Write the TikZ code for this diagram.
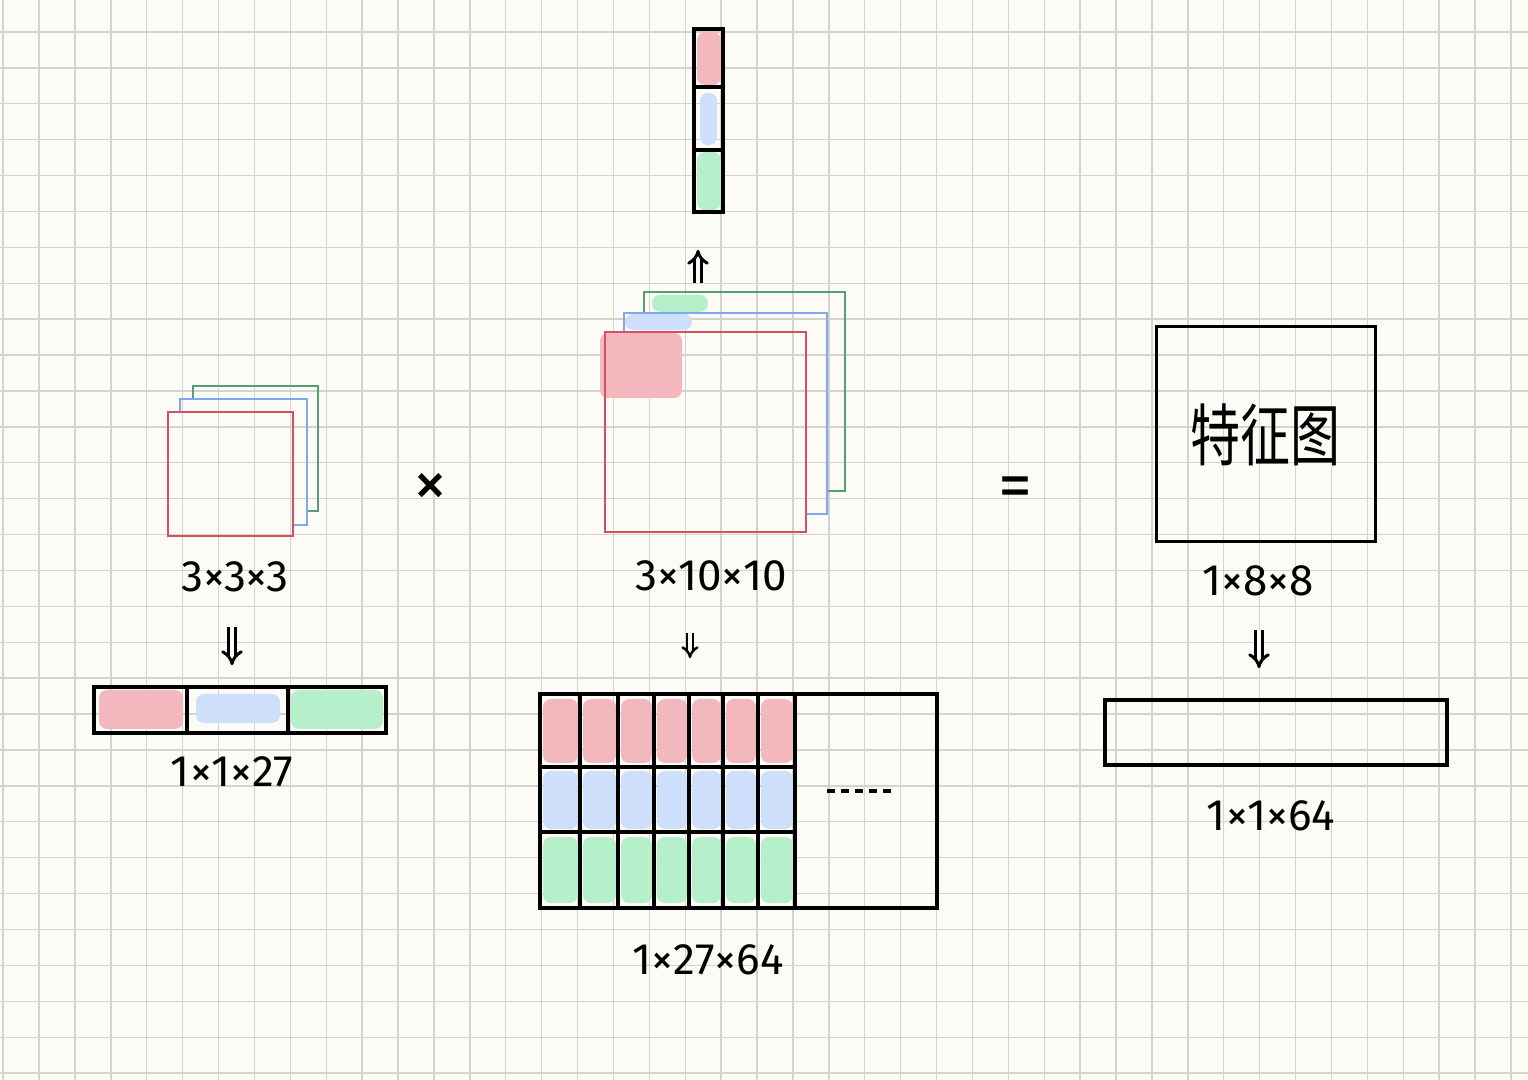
\documentclass[tikz,border=0pt]{standalone}
\usepackage{fontspec}
\setmainfont{Fira Sans}
\newfontfamily\cjkfont{Noto Sans CJK SC}
\usepackage{tikz}
\usetikzlibrary{arrows.meta, positioning, calc}
\definecolor{paper}{HTML}{FDFBF6}
\definecolor{gridgray}{HTML}{D5D3CF}
\definecolor{chred}{HTML}{D5505F}
\definecolor{chblue}{HTML}{7FA9EC}
\definecolor{chgreen}{HTML}{559E76}
\definecolor{fillred}{HTML}{F3B8BD}
\definecolor{fillblue}{HTML}{CDDFFA}
\definecolor{fillgreen}{HTML}{B5F0CA}

\begin{document}
\begin{tikzpicture}[x=0.5pt, y=-0.5pt, >={Implies},
  gridline/.style={gridgray, line width=0.7pt},
  blackbox/.style={draw=black, line width=1.8pt, inner sep=0pt},
  sheet/.style={line width=0.8pt},
  blob/.style={rounded corners=4pt},
  dimlabel/.style={font=\fontsize{22pt}{24pt}\selectfont, inner sep=0pt},
  opsign/.style={font=\fontsize{34pt}{36pt}\selectfont, inner sep=0pt},
  dblarrow/.style={->, double=paper, double distance=2pt, line width=1.5pt}]

  % paper and grid
  \fill[paper] (0,0) rectangle (1528,1080);
  \useasboundingbox (0,0) rectangle (1528,1080);
  \foreach \k in {0,...,42}
    \draw[gridline] ({3.1+35.9*\k},0) -- ({3.1+35.9*\k},1080);
  \foreach \k in {-1,...,29}
    \draw[gridline] (0,{32+35.9*\k}) -- (1528,{32+35.9*\k});

  % kernel 3x3x3
  \draw[sheet, chgreen] (193,399) |- (318,386) |- (307,511);
  \draw[sheet, chblue] (180,412) |- (307,399) |- (293,525);
  \node[sheet, draw=chred, minimum width=62.5pt, minimum height=62pt] (kred) at (230.5,474) {};
  \node[dimlabel] (klab) at (235,577) {3×3×3};

  \node[opsign] (times) at (430,490) {×};

  % flattened kernel
  \fill[fillred, blob] (99,690) rectangle (183,729);
  \fill[fillblue, blob] (196,694) rectangle (280,723);
  \fill[fillgreen, blob] (291,690) rectangle (383,729);
  \node[blackbox, minimum width=146pt, minimum height=23pt] (kflat) at (240,710) {};
  \draw[line width=1.8pt] (187,687) -- (187,733) (288,687) -- (288,733);
  \node[dimlabel] (kflatlab) at (232,772) {1×1×27};

  \coordinate (ktop) at (232,627);
  \draw[dblarrow, shorten >=10pt] (ktop) -- (ktop |- kflat.north);

  % input 3x10x10
  \fill[fillgreen, blob] (652,295) rectangle (708,312);
  \fill[fillblue, blob] (625,314) rectangle (692,330);
  \fill[fillred, blob] (600,333) rectangle (682,398);
  \draw[sheet, chgreen] (644,313) |- (845,292) |- (827,491);
  \draw[sheet, chblue] (624,332) |- (827,313) |- (806,514);
  \node[sheet, draw=chred, minimum width=100.5pt, minimum height=100pt] (ired) at (705.5,432) {};
  \node[dimlabel] (ilab) at (711,576) {3×10×10};

  % one column of the input
  \fill[fillred, blob] (697,32) rectangle (721,85);
  \fill[fillblue, blob] (700,93) rectangle (717,145);
  \fill[fillgreen, blob] (697,152) rectangle (721,210);
  \node[blackbox, minimum width=14.5pt, minimum height=91.5pt] (icol) at (708.5,120.5) {};
  \draw[line width=1.8pt] (694,87) -- (723,87) (694,150) -- (723,150);

  \coordinate (itop) at (698,283);
  \draw[dblarrow, shorten >=18pt] (itop) -- (itop |- icol.south);

  % unfolded input 1x27x64
  \foreach \a/\b in {540/580,580/618,618/654,654/689,689/723,723/758,758/795}{
    \fill[fillred, blob] ({\a+3},699) rectangle ({\b-2},763);
    \fill[fillblue, blob] ({\a+3},771) rectangle ({\b-2},829);
    \fill[fillgreen, blob] ({\a+3},837) rectangle ({\b-2},903);
  }
  \node[blackbox, minimum width=198.5pt, minimum height=107pt] (imat) at (738.5,801) {};
  \foreach \cx in {580,618,654,689,723,758,795}
    \draw[line width=1.8pt] (\cx,694) -- (\cx,908);
  \foreach \ry in {767,832}
    \draw[line width=1.8pt] (540,\ry) -- (795,\ry);
  \draw[line width=1.7pt, dash pattern=on 4pt off 3pt] (827,791) -- (895,791);
  \node[dimlabel] (imatlab) at (708,960) {1×27×64};

  \coordinate (imid) at (690,633);
  \draw[dblarrow, line width=1.2pt, double distance=1.6pt, shorten >=17pt] (imid) -- (imid |- imat.north);

  \node[opsign] (equals) at (1015,493) {=};

  % feature map
  \node[blackbox, line width=1.5pt, minimum width=109.5pt, minimum height=107.5pt,
        font=\cjkfont\fontsize{25pt}{27pt}\selectfont] (fmap) at (1265.5,434.5)
        {\scalebox{1}[1.35]{特征图}};
  \node[dimlabel] (fmaplab) at (1258,581) {1×8×8};

  \node[blackbox, minimum width=171pt, minimum height=32.5pt] (fvec) at (1276,732.5) {};
  \node[dimlabel] (fveclab) at (1271,816) {1×1×64};

  \coordinate (ftop) at (1259,630);
  \draw[dblarrow, shorten >=15pt] (ftop) -- (ftop |- fvec.north);
\end{tikzpicture}
\end{document}
